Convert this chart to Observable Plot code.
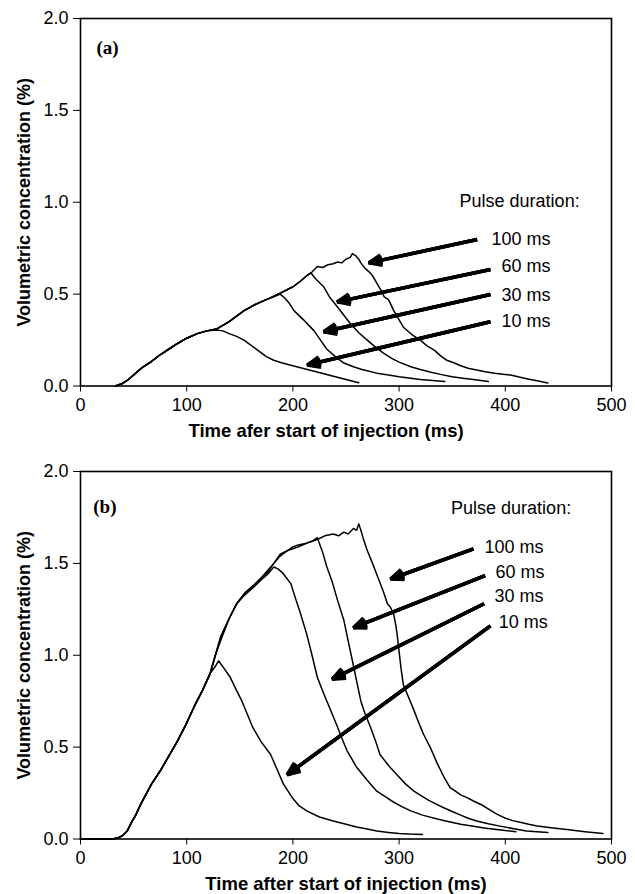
<!DOCTYPE html>
<html>
<head>
<meta charset="utf-8">
<script src="https://cdn.jsdelivr.net/npm/d3@7"></script>
<script src="https://cdn.jsdelivr.net/npm/@observablehq/plot@0.6"></script>
<style>
  html, body { margin: 0; padding: 0; background: #fff; }
  #chart svg { display: block; }
</style>
</head>
<body>
<div id="chart"></div>
<script>
// ---------- data (time in ms, volumetric concentration in %) ----------
const xTicks = [0, 100, 200, 300, 400, 500];
const yTicks = [0, 0.5, 1.0, 1.5, 2.0];
const pulseNames = ["10 ms", "30 ms", "60 ms", "100 ms"];

// Panel (a)
const riseA = [[33,0],[40,0.015],[44,0.03],[50,0.06],[58,0.1],[66,0.13],[75,0.17],[83,0.2],[91,0.23],[100,0.26],[110,0.285],[119,0.3]];
const a10 = [...riseA,[128,0.305],[134,0.3],[140,0.285],[147,0.27],[154,0.25],[161,0.22],[168,0.19],[175,0.16],[182,0.14],[190,0.125],[200,0.11],[210,0.095],[220,0.08],[230,0.065],[240,0.05],[250,0.035],[262,0.018]];
const a30 = [...riseA,[128,0.31],[140,0.35],[154,0.41],[165,0.445],[175,0.47],[182,0.485],[188,0.5],[192,0.48],[196,0.455],[201,0.41],[210,0.36],[215,0.33],[220,0.3],[226,0.25],[232,0.2],[240,0.16],[248,0.125],[257,0.105],[265,0.09],[279,0.07],[290,0.06],[300,0.05],[320,0.035],[343,0.024]];
const a60 = [...riseA,[128,0.31],[140,0.35],[154,0.41],[165,0.445],[175,0.47],[188,0.505],[200,0.54],[207,0.57],[213,0.6],[217,0.615],[222,0.58],[229,0.54],[235,0.48],[242,0.43],[248,0.385],[254,0.34],[262,0.29],[270,0.25],[278,0.21],[285,0.18],[293,0.15],[300,0.13],[311,0.105],[320,0.09],[330,0.075],[340,0.062],[350,0.05],[360,0.042],[370,0.035],[384,0.024]];
const a100 = [...riseA,[128,0.31],[140,0.35],[154,0.41],[165,0.445],[175,0.47],[188,0.505],[200,0.54],[207,0.57],[213,0.6],[218,0.62],[223,0.65],[228,0.645],[233,0.66],[238,0.665],[242,0.675],[246,0.67],[250,0.69],[254,0.7],[256,0.72],[259,0.71],[262,0.69],[264,0.67],[268,0.64],[272,0.62],[275,0.6],[280,0.55],[283,0.52],[286,0.485],[290,0.47],[295,0.41],[300,0.36],[304,0.32],[312,0.28],[320,0.25],[326,0.22],[333,0.195],[340,0.16],[345,0.14],[352,0.125],[358,0.11],[365,0.097],[373,0.087],[381,0.078],[390,0.07],[398,0.064],[405,0.06],[412,0.05],[420,0.04],[430,0.028],[440,0.016]];

// Panel (b)
const riseB = [[0,0],[10,0],[20,0],[30,0],[35,0.005],[40,0.02],[44,0.044],[48,0.09],[52,0.13],[56,0.18],[60,0.225],[67,0.3],[75,0.37],[83,0.45],[91,0.53],[99,0.62],[107,0.72],[115,0.81],[122,0.9]];
const b10 = [...riseB,[127,0.94],[130,0.97],[135,0.93],[141,0.88],[146,0.82],[152,0.75],[157,0.68],[162,0.61],[170,0.53],[179,0.46],[185,0.38],[191,0.3],[200,0.22],[206,0.18],[213,0.153],[225,0.12],[238,0.098],[250,0.08],[260,0.065],[270,0.055],[279,0.044],[290,0.036],[300,0.03],[310,0.027],[322,0.025]];
const b30 = [...riseB,[127,1.0],[132,1.08],[140,1.2],[147,1.28],[155,1.33],[163,1.37],[170,1.41],[176,1.44],[182,1.48],[186,1.47],[190,1.45],[194,1.42],[198,1.39],[203,1.3],[207,1.23],[213,1.115],[218,1.0],[223,0.88],[227,0.82],[232,0.75],[237,0.68],[242,0.61],[246,0.55],[251,0.48],[256,0.43],[260,0.39],[270,0.32],[279,0.26],[287,0.23],[295,0.2],[303,0.175],[311,0.153],[322,0.13],[335,0.11],[346,0.095],[358,0.08],[370,0.07],[380,0.06],[392,0.052],[400,0.046],[410,0.04]];
const b60 = [...riseB,[127,1.0],[132,1.1],[140,1.2],[147,1.28],[155,1.34],[163,1.38],[170,1.42],[176,1.45],[182,1.5],[188,1.54],[195,1.57],[200,1.58],[205,1.59],[209,1.6],[213,1.61],[218,1.62],[223,1.64],[228,1.56],[232,1.48],[237,1.4],[242,1.3],[248,1.19],[252,1.08],[256,0.97],[260,0.86],[264,0.75],[268,0.68],[273,0.61],[278,0.53],[282,0.46],[290,0.4],[298,0.35],[306,0.3],[314,0.26],[321,0.235],[328,0.21],[335,0.19],[342,0.17],[350,0.15],[358,0.13],[365,0.113],[373,0.098],[384,0.083],[395,0.07],[408,0.056],[420,0.044],[430,0.04],[440,0.035]];
const b100 = [...riseB,[127,1.0],[132,1.1],[140,1.2],[147,1.28],[155,1.34],[163,1.38],[170,1.42],[176,1.46],[182,1.5],[188,1.55],[195,1.57],[200,1.59],[205,1.6],[213,1.61],[218,1.62],[223,1.63],[230,1.65],[238,1.66],[243,1.65],[248,1.67],[252,1.66],[257,1.69],[260,1.68],[262,1.715],[264,1.68],[266,1.64],[270,1.57],[275,1.5],[279,1.44],[285,1.35],[289,1.28],[292,1.26],[295,1.22],[297,1.16],[298,1.12],[300,1.02],[302,0.92],[304,0.84],[309,0.77],[314,0.7],[318,0.64],[323,0.57],[330,0.49],[336,0.41],[342,0.34],[348,0.28],[353,0.26],[358,0.24],[364,0.225],[370,0.207],[378,0.185],[385,0.16],[392,0.135],[399,0.116],[407,0.1],[415,0.09],[422,0.08],[430,0.071],[445,0.06],[460,0.05],[475,0.04],[492,0.03]];

// Annotation arrows: [tail t, tail v, head t, head v] for 100, 60, 30, 10 ms
const arrowsA = [[373.5,0.797,271.5,0.67],[386,0.634,241.7,0.458],[386,0.498,229,0.295],[386,0.35,213.5,0.114]];
const arrowsB = [[370,1.579,292,1.415],[381,1.433,257,1.15],[380,1.28,237,0.87],[386,1.16,194.6,0.35]];
// Annotation labels: [text, t (right end), v]
const labelsA = [["Pulse duration:",470,1.007],["100 ms",442.6,0.799],["60 ms",442.6,0.652],["30 ms",442.6,0.495],["10 ms",442.6,0.355]];
const labelsB = [["Pulse duration:",462,1.798],["100 ms",436,1.587],["60 ms",437,1.451],["30 ms",436,1.319],["10 ms",440,1.179]];
const panelTags = ["(a)", "(b)"];
const tagPos = [[15,1.84],[12,1.81]];
const xTitles = ["Time afer start of injection (ms)", "Time after start of injection (ms)"];
const yTitle = "Volumetric concentration (%)";

// ---------- drawing ----------
const FONT = "'Liberation Sans', Arial, Helvetica, sans-serif";

function toRows(seriesList) {
  return seriesList.flatMap((pts, i) => pts.map(([t, v]) => ({pulse: pulseNames[i], t, v})));
}

function arrowLayers(arrows) {
  // overlapping arrowheads at decreasing angles give a filled triangular head
  return [45, 30, 16].map(angle =>
    Plot.arrow(arrows, {x1: d => d[0], y1: d => d[1], x2: d => d[2], y2: d => d[3],
      stroke: "black", strokeWidth: 3.5, headLength: 6, headAngle: angle, strokeLinecap: "butt"}));
}

function panel({series, arrows, labels, tag, tagXY, xTitle, xTitleDx, marginTop, marginBottom}) {
  const plotH = 367.5;
  return Plot.plot({
    width: 635,
    height: marginTop + plotH + marginBottom,
    marginTop,
    marginBottom,
    marginLeft: 80,
    marginRight: 24,
    style: {fontFamily: FONT, fontSize: "18px", color: "black", background: "white"},
    x: {domain: [0, 500], label: null},
    y: {domain: [0, 2], label: null},
    marks: [
      Plot.axisX({ticks: xTicks, tickSize: 6, tickPadding: 6, fontSize: 18, label: null, stroke: "black"}),
      Plot.axisY({ticks: yTicks, tickSize: 7, tickPadding: 5, tickFormat: d3.format(".1f"), fontSize: 18, label: null, stroke: "black"}),
      Plot.line(toRows(series), {x: "t", y: "v", z: "pulse", stroke: "black", strokeWidth: 1.5, curve: "linear"}),
      ...arrowLayers(arrows),
      Plot.text(labels, {x: d => d[1], y: d => d[2], text: d => d[0], textAnchor: "end", fontSize: 18, fill: "black"}),
      Plot.text([tag], {x: tagXY[0], y: tagXY[1], text: d => d, textAnchor: "start", fontSize: 19, fontWeight: "bold", fontFamily: "'Liberation Serif', 'Times New Roman', serif", fill: "black"}),
      Plot.text([xTitle], {frameAnchor: "bottom", dx: xTitleDx, dy: 45, lineAnchor: "middle", textAnchor: "middle", text: d => d, fontSize: 18.5, fontWeight: "bold", fill: "black"}),
      Plot.text([yTitle], {frameAnchor: "left", dx: -56, rotate: -90, textAnchor: "middle", lineAnchor: "middle", text: d => d, fontSize: 18, fontWeight: "bold", fill: "black"}),
      Plot.frame({stroke: "black", strokeWidth: 1.6})
    ]
  });
}

const chart = document.getElementById("chart");
chart.append(panel({
  series: [a10, a30, a60, a100], arrows: arrowsA, labels: labelsA,
  tag: panelTags[0], tagXY: tagPos[0], xTitle: xTitles[0], xTitleDx: -20,
  marginTop: 18, marginBottom: 62.5
}));
chart.append(panel({
  series: [b10, b30, b60, b100], arrows: arrowsB, labels: labelsB,
  tag: panelTags[1], tagXY: tagPos[1], xTitle: xTitles[1], xTitleDx: 0,
  marginTop: 23, marginBottom: 56
}));
</script>
</body>
</html>
